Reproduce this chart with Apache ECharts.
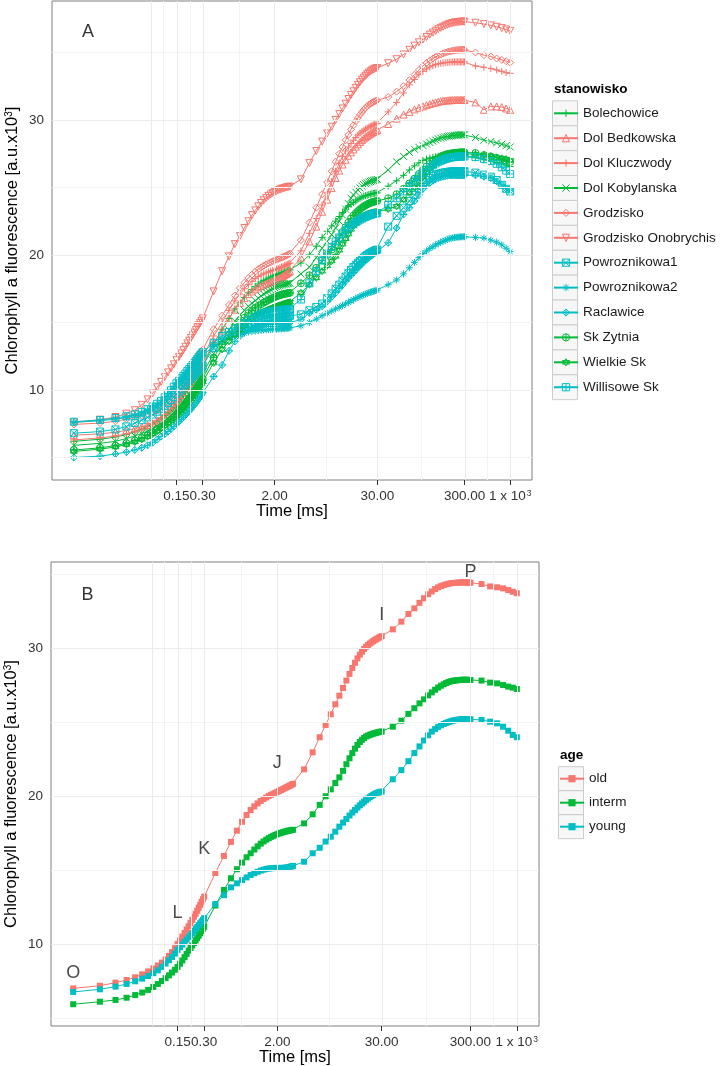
<!DOCTYPE html>
<html><head><meta charset="utf-8">
<script src="https://cdn.jsdelivr.net/npm/echarts@6.0.0/dist/echarts.min.js"></script>
<style>html,body{margin:0;padding:0;background:#fff}#c{width:722px;height:1066px}</style>
</head><body><div id="c"></div>
<script>
// ---------------- DATA ----------------
const times = [0.01,0.02,0.03,0.04,0.05,0.06,0.07,0.08,0.09,0.10,0.11,0.12,0.13,0.14,0.15,0.16,0.17,0.18,0.19,0.20,0.21,0.22,0.23,0.24,0.25,0.26,0.27,0.28,0.29,0.30,
0.4,0.5,0.6,0.7,0.8,0.9,1.0,1.1,1.2,1.3,1.4,1.5,1.6,1.7,1.8,1.9,2.0,2.1,2.2,2.3,2.4,2.5,2.6,2.7,2.8,2.9,3.0,
4,5,6,7,8,9,10,11,12,13,14,15,16,17,18,19,20,21,22,23,24,25,26,27,28,29,30,
40,50,60,70,80,90,100,110,120,130,140,150,160,170,180,190,200,210,220,230,240,250,260,270,280,290,300,
400,500,600,700,800,900,1000];

const tickTimes = [0.15, 0.3, 2, 30, 300, 1000];
const tickLabels = ['0.15', '0.30', '2.00', '30.00', '300.00', '1 x 10{sup|3}'];
const gridBreakTimes = [0.077, 0.15, 0.3, 2, 30, 300, 1000];
const yTicks = [10, 20, 30];
const yMinorLines = [5, 15, 25, 35];

const siteNames = ['Bolechowice','Dol Bedkowska','Dol Kluczwody','Dol Kobylanska','Grodzisko','Grodzisko Onobrychis','Powroznikowa1','Powroznikowa2','Raclawice','Sk Zytnia','Wielkie Sk','Willisowe Sk'];

const bolechowice = [6.2,6.35,6.52,6.7,6.9,7.1,7.3,7.5,7.7,7.9,8.1,8.3,8.5,8.7,8.9,9.12,9.34,9.56,9.78,10.0,10.2,10.4,10.6,10.8,10.98,11.16,11.33,11.5,11.65,11.8,
13.4,14.5,15.3,16.0,16.45,16.85,17.2,17.45,17.67,17.85,18.0,18.1,18.2,18.28,18.36,18.43,18.5,18.55,18.6,18.64,18.68,18.72,18.76,18.8,18.83,18.87,18.9,
19.4,20.0,20.65,21.3,21.75,22.15,22.5,22.85,23.15,23.4,23.6,23.75,23.88,24.0,24.1,24.2,24.28,24.34,24.39,24.43,24.47,24.5,24.53,24.55,24.57,24.59,24.6,
25.1,25.5,25.9,26.3,26.6,26.82,27.0,27.1,27.18,27.24,27.28,27.3,27.33,27.35,27.37,27.38,27.4,27.4,27.4,27.4,27.39,27.38,27.37,27.35,27.33,27.31,27.3,
27.2,27.05,26.95,26.85,26.75,26.65,26.55];
const dolBedkowska = [6.65,6.75,6.87,7.0,7.15,7.28,7.41,7.54,7.67,7.8,7.98,8.18,8.4,8.64,8.9,9.14,9.38,9.62,9.86,10.1,10.3,10.5,10.7,10.9,11.1,11.3,11.5,11.68,11.85,12.0,
13.5,14.4,15.3,15.95,16.45,16.8,17.1,17.3,17.45,17.6,17.7,17.8,17.87,17.94,18.0,18.05,18.1,18.17,18.24,18.31,18.38,18.45,18.52,18.59,18.66,18.73,18.8,
19.8,21.0,22.1,23.2,24.1,24.95,25.7,26.25,26.7,27.05,27.35,27.6,27.82,28.02,28.2,28.36,28.5,28.62,28.73,28.82,28.9,28.98,29.05,29.11,29.16,29.21,29.26,
29.7,30.1,30.4,30.6,30.78,30.9,31.0,31.09,31.17,31.24,31.3,31.35,31.39,31.42,31.44,31.45,31.46,31.47,31.47,31.48,31.48,31.48,31.48,31.48,31.48,31.48,31.48,
31.3,30.75,31.0,31.0,30.95,30.85,30.75];
const dolKluczwody = [6.3,6.45,6.58,6.75,6.95,7.12,7.3,7.5,7.72,7.95,8.18,8.42,8.67,8.93,9.2,9.45,9.7,9.95,10.18,10.4,10.62,10.85,11.08,11.3,11.52,11.74,11.95,12.15,12.33,12.5,
14.0,15.0,15.9,16.6,17.1,17.5,17.8,18.05,18.25,18.4,18.52,18.6,18.67,18.74,18.8,18.85,18.9,18.95,19.0,19.05,19.1,19.15,19.2,19.25,19.3,19.35,19.4,
20.3,21.6,22.7,23.7,24.6,25.45,26.2,26.8,27.3,27.7,28.0,28.25,28.5,28.7,28.88,29.02,29.13,29.23,29.32,29.4,29.47,29.53,29.58,29.63,29.67,29.71,29.75,
30.6,31.3,32.0,32.6,33.0,33.35,33.6,33.78,33.92,34.02,34.1,34.15,34.19,34.22,34.24,34.26,34.27,34.28,34.29,34.3,34.3,34.3,34.3,34.3,34.3,34.3,34.3,
34.0,33.9,33.8,33.7,33.6,33.5,33.45];
const dolKobylanska = [5.9,6.05,6.2,6.4,6.6,6.78,6.96,7.14,7.32,7.5,7.7,7.9,8.1,8.3,8.5,8.7,8.9,9.1,9.3,9.5,9.68,9.86,10.04,10.22,10.4,10.57,10.74,10.9,11.05,11.2,
12.7,13.7,14.45,15.1,15.55,15.9,16.2,16.42,16.62,16.8,16.96,17.1,17.22,17.32,17.41,17.5,17.58,17.64,17.69,17.73,17.77,17.8,17.83,17.85,17.87,17.89,17.9,
18.6,19.1,19.8,20.5,21.0,21.5,22.0,22.5,22.95,23.4,23.8,24.2,24.45,24.65,24.82,24.97,25.1,25.2,25.28,25.34,25.4,25.45,25.49,25.52,25.55,25.58,25.6,
26.3,26.9,27.3,27.6,27.83,27.97,28.1,28.22,28.33,28.43,28.52,28.6,28.66,28.71,28.75,28.78,28.8,28.82,28.84,28.86,28.87,28.88,28.89,28.9,28.9,28.9,28.9,
28.7,28.5,28.4,28.3,28.2,28.1,28.0];
const grodzisko = [7.45,7.55,7.68,7.83,8.0,8.12,8.24,8.36,8.48,8.6,8.8,9.02,9.25,9.48,9.7,9.95,10.2,10.45,10.72,11.0,11.25,11.5,11.75,12.0,12.22,12.42,12.6,12.75,12.88,13.0,
14.5,15.5,16.3,17.0,17.55,17.95,18.3,18.55,18.77,18.95,19.08,19.2,19.3,19.38,19.46,19.53,19.6,19.65,19.7,19.75,19.8,19.85,19.9,19.95,20.0,20.05,20.1,
21.1,22.4,23.5,24.5,25.4,26.2,26.9,27.5,28.0,28.5,28.9,29.3,29.6,29.9,30.15,30.38,30.58,30.75,30.9,31.02,31.12,31.2,31.27,31.33,31.38,31.42,31.45,
31.7,32.1,32.5,32.95,33.35,33.7,34.0,34.22,34.4,34.55,34.67,34.77,34.85,34.92,34.98,35.03,35.07,35.1,35.13,35.15,35.17,35.18,35.19,35.2,35.2,35.2,35.2,
35.0,34.8,34.7,34.55,34.45,34.35,34.25];
const grodziskoOnobrychis = [7.6,7.8,8.0,8.25,8.5,8.9,9.3,9.75,10.2,10.6,10.95,11.3,11.6,11.9,12.2,12.45,12.7,12.95,13.2,13.45,13.65,13.85,14.05,14.25,14.45,14.65,14.8,14.97,15.13,15.3,
17.3,18.8,19.9,20.8,21.4,22.0,22.5,22.95,23.3,23.6,23.85,24.05,24.22,24.36,24.48,24.58,24.66,24.73,24.79,24.84,24.89,24.93,24.96,24.99,25.02,25.04,25.06,
25.6,26.8,27.7,28.4,29.0,29.5,30.0,30.45,30.85,31.2,31.55,31.85,32.12,32.38,32.6,32.8,32.98,33.13,33.27,33.39,33.5,33.59,33.67,33.73,33.78,33.82,33.85,
34.2,34.5,34.85,35.2,35.5,35.75,35.95,36.15,36.32,36.47,36.6,36.72,36.82,36.9,36.98,37.04,37.1,37.14,37.18,37.21,37.23,37.25,37.26,37.27,37.28,37.28,37.28,
37.2,37.1,37.0,36.9,36.8,36.7,36.6];
const powroznikowa1 = [6.8,6.92,7.08,7.3,7.55,7.76,7.97,8.18,8.39,8.6,8.82,9.04,9.26,9.48,9.7,9.88,10.06,10.24,10.42,10.6,10.73,10.86,10.99,11.12,11.25,11.37,11.49,11.6,11.7,11.8,
13.1,13.65,14.0,14.22,14.4,14.54,14.65,14.75,14.84,14.92,14.99,15.05,15.09,15.13,15.17,15.21,15.25,15.28,15.31,15.34,15.37,15.4,15.42,15.44,15.46,15.48,15.5,
15.6,15.9,16.15,16.4,16.8,17.15,17.5,17.8,18.1,18.4,18.65,18.9,19.1,19.27,19.42,19.56,19.7,19.81,19.91,20.0,20.08,20.15,20.21,20.27,20.32,20.36,20.4,
22.1,22.9,23.5,24.0,24.45,24.9,25.3,25.55,25.72,25.85,25.94,26.0,26.05,26.09,26.12,26.15,26.17,26.18,26.19,26.2,26.2,26.2,26.2,26.2,26.2,26.2,26.2,
26.1,25.95,25.8,25.55,25.2,24.9,24.7];
const powroznikowa2 = [7.6,7.72,7.84,7.96,8.1,8.28,8.48,8.68,8.88,9.1,9.36,9.62,9.88,10.14,10.4,10.58,10.76,10.94,11.12,11.3,11.44,11.58,11.72,11.86,12.0,12.13,12.25,12.37,12.49,12.6,
13.2,13.6,13.9,14.0,14.1,14.2,14.3,14.34,14.37,14.4,14.43,14.45,14.46,14.47,14.48,14.49,14.5,14.51,14.52,14.53,14.54,14.55,14.56,14.57,14.58,14.59,14.6,
14.75,15.0,15.25,15.5,15.68,15.85,16.0,16.13,16.25,16.37,16.49,16.6,16.69,16.78,16.86,16.93,17.0,17.05,17.1,17.15,17.2,17.24,17.28,17.31,17.34,17.37,17.4,
17.8,18.15,18.6,19.05,19.45,19.8,20.1,20.3,20.47,20.61,20.74,20.85,20.94,21.02,21.09,21.15,21.2,21.24,21.27,21.29,21.31,21.32,21.33,21.34,21.35,21.35,21.35,
21.3,21.25,21.1,20.95,20.75,20.5,20.25];
const raclawice = [5.0,5.1,5.26,5.4,5.56,5.72,5.9,6.1,6.32,6.55,6.73,6.92,7.11,7.3,7.5,7.66,7.82,7.98,8.14,8.3,8.45,8.6,8.75,8.9,9.05,9.2,9.35,9.5,9.65,9.8,
11.0,11.85,12.9,13.6,14.0,14.3,14.5,14.58,14.65,14.72,14.79,14.85,14.87,14.88,14.89,14.9,14.9,14.91,14.92,14.93,14.94,14.95,14.96,14.97,14.98,14.99,15.0,
15.2,15.7,15.95,16.2,16.55,16.9,17.2,17.5,17.78,18.05,18.3,18.5,18.7,18.88,19.05,19.2,19.35,19.48,19.6,19.7,19.8,19.89,19.97,20.05,20.13,20.21,20.3,
20.9,22.0,23.0,23.5,24.0,24.45,24.9,25.15,25.35,25.5,25.62,25.7,25.76,25.8,25.84,25.87,25.9,25.9,25.9,25.9,25.9,25.9,25.9,25.9,25.9,25.9,25.9,
25.9,25.8,25.7,25.45,25.2,24.9,24.8];
const skZytnia = [5.55,5.72,5.88,6.06,6.25,6.44,6.64,6.84,7.04,7.25,7.44,7.63,7.82,8.01,8.2,8.4,8.6,8.8,9.0,9.2,9.37,9.54,9.71,9.88,10.04,10.2,10.36,10.51,10.66,10.8,
12.4,13.4,14.05,14.6,15.0,15.35,15.7,15.9,16.08,16.22,16.35,16.47,16.57,16.66,16.74,16.81,16.88,16.93,16.98,17.02,17.06,17.09,17.12,17.14,17.16,17.18,17.2,
17.9,18.5,19.05,19.6,20.0,20.4,20.8,21.25,21.7,22.05,22.4,22.7,22.92,23.1,23.25,23.38,23.5,23.6,23.68,23.75,23.81,23.86,23.9,23.93,23.96,23.98,24.0,
24.2,24.5,24.9,25.3,25.65,26.0,26.3,26.55,26.75,26.92,27.06,27.18,27.28,27.36,27.42,27.47,27.5,27.52,27.54,27.56,27.57,27.58,27.59,27.6,27.6,27.6,27.6,
27.55,27.4,27.3,27.2,27.1,27.0,26.9];
const wielkieSk = [5.45,5.62,5.78,5.96,6.15,6.34,6.54,6.74,6.94,7.15,7.34,7.53,7.72,7.91,8.1,8.28,8.46,8.64,8.82,9.0,9.17,9.34,9.51,9.68,9.84,10.0,10.16,10.31,10.46,10.6,
12.0,13.0,13.6,14.1,14.45,14.8,15.1,15.3,15.46,15.6,15.71,15.8,15.88,15.95,16.02,16.08,16.14,16.19,16.24,16.28,16.32,16.36,16.4,16.43,16.46,16.48,16.5,
17.2,17.8,18.3,18.8,19.2,19.55,19.9,20.35,20.8,21.2,21.55,21.9,22.15,22.35,22.52,22.66,22.78,22.88,22.96,23.02,23.07,23.11,23.14,23.16,23.18,23.19,23.2,
23.4,23.6,24.1,24.6,25.0,25.4,25.8,26.12,26.4,26.62,26.82,27.0,27.12,27.22,27.3,27.36,27.4,27.43,27.45,27.47,27.48,27.49,27.5,27.5,27.5,27.5,27.5,
27.45,27.4,27.3,27.2,27.15,27.1,27.0];
const willisoweSk = [7.65,7.78,7.92,8.05,8.2,8.38,8.58,8.78,8.98,9.2,9.46,9.72,9.98,10.24,10.5,10.68,10.86,11.04,11.22,11.4,11.55,11.7,11.85,12.0,12.15,12.3,12.44,12.57,12.69,12.8,
13.5,14.0,14.3,14.5,14.75,14.95,15.15,15.3,15.42,15.52,15.61,15.7,15.74,15.77,15.8,15.83,15.85,15.87,15.89,15.91,15.93,15.94,15.95,15.96,15.97,15.98,16.0,
16.7,17.9,18.8,19.6,20.1,20.6,21.0,21.3,21.58,21.83,22.03,22.2,22.32,22.43,22.53,22.62,22.7,22.77,22.83,22.88,22.93,22.97,23.0,23.03,23.06,23.08,23.1,
23.7,24.2,24.7,25.1,25.5,25.82,26.1,26.32,26.5,26.65,26.78,26.9,26.98,27.05,27.1,27.15,27.2,27.22,27.24,27.26,27.27,27.28,27.29,27.3,27.3,27.3,27.3,
27.25,27.1,26.95,26.75,26.5,26.25,26.0];

const ageNames = ['old', 'interm', 'young'];
const ageOld = [7.00,7.18,7.39,7.57,7.75,7.95,8.15,8.35,8.55,8.74,8.95,9.20,9.45,9.72,10.00,10.25,10.50,10.75,10.98,11.20,11.42,11.63,11.84,12.04,12.25,12.45,12.65,12.85,13.03,13.20,
14.80,15.95,16.90,17.66,18.26,18.72,19.05,19.30,19.50,19.66,19.80,19.90,20.00,20.08,20.15,20.22,20.28,20.34,20.40,20.46,20.52,20.57,20.62,20.67,20.72,20.77,20.82,
21.80,22.95,23.97,24.80,25.52,26.20,26.78,27.30,27.80,28.25,28.65,29.00,29.30,29.55,29.75,29.93,30.08,30.20,30.30,30.38,30.46,30.53,30.59,30.65,30.70,30.75,30.80,
31.26,31.78,32.30,32.68,33.05,33.36,33.63,33.82,33.98,34.10,34.18,34.25,34.30,34.34,34.37,34.39,34.40,34.41,34.42,34.42,34.43,34.43,34.43,34.43,34.42,34.42,34.41,
34.32,34.16,34.10,34.03,33.92,33.80,33.70];
const ageInterm = [5.93,6.10,6.22,6.37,6.55,6.72,6.90,7.10,7.30,7.50,7.69,7.88,8.07,8.26,8.45,8.67,8.89,9.11,9.33,9.55,9.73,9.90,10.07,10.24,10.40,10.56,10.72,10.88,11.03,11.17,
12.60,13.65,14.44,15.05,15.50,15.86,16.13,16.38,16.60,16.78,16.93,17.05,17.15,17.24,17.31,17.37,17.42,17.47,17.51,17.55,17.58,17.61,17.64,17.66,17.68,17.70,17.72,
18.15,18.76,19.40,19.98,20.45,20.88,21.26,21.70,22.15,22.55,22.90,23.20,23.45,23.65,23.80,23.92,24.02,24.08,24.13,24.17,24.21,24.24,24.27,24.30,24.32,24.34,24.36,
24.68,25.09,25.55,25.93,26.26,26.53,26.80,27.00,27.18,27.33,27.45,27.55,27.63,27.70,27.75,27.78,27.80,27.82,27.83,27.84,27.85,27.85,27.85,27.85,27.85,27.84,27.84,
27.80,27.66,27.61,27.50,27.39,27.32,27.23];
const ageYoung = [6.76,6.94,7.12,7.30,7.48,7.66,7.84,8.03,8.22,8.45,8.68,8.90,9.12,9.35,9.60,9.78,9.96,10.14,10.30,10.46,10.60,10.74,10.88,11.02,11.15,11.28,11.40,11.52,11.63,11.75,
12.70,13.30,13.83,14.10,14.32,14.50,14.66,14.78,14.88,14.96,15.02,15.07,15.10,15.12,15.13,15.14,15.14,15.14,15.14,15.14,15.15,15.16,15.18,15.20,15.22,15.25,15.28,
15.56,16.13,16.50,16.92,17.25,17.59,17.93,18.20,18.45,18.68,18.88,19.05,19.22,19.37,19.50,19.62,19.73,19.83,19.92,20.00,20.07,20.13,20.18,20.22,20.25,20.28,20.30,
21.13,21.75,22.35,22.90,23.35,23.75,24.10,24.35,24.53,24.67,24.78,24.87,24.94,25.00,25.05,25.09,25.12,25.14,25.16,25.17,25.18,25.18,25.18,25.18,25.18,25.18,25.18,
25.14,25.02,24.91,24.68,24.41,24.12,23.97];

const stepLetters = ['O', 'L', 'K', 'J', 'I', 'P'];
const stepTimes = [0.01, 0.15, 0.3, 2, 30, 300];
const stepValues = [8.06, 12.07, 16.4, 22.25, 32.23, 35.11];
const panelLetters = ['A', 'B'];
const panelLetterTime = 0.0145;
const panelLetterValues = [36.54, 33.58];

// ---------------- STYLE ----------------
const FONT = "'Liberation Sans', Arial, Helvetica, sans-serif";
const RED = '#F8766D', GREEN = '#00BA38', CYAN = '#00BFC4';
const SYM = {
  plus: 'path://M5,0V10M0,5H10',
  cross: 'path://M0,0L10,10M10,0L0,10',
  triUp: 'path://M5,0L10,9L0,9Z',
  triDown: 'path://M0,1L10,1L5,10Z',
  diamond: 'path://M5,0L10,5L5,10L0,5Z',
  squareCross: 'path://M0,0H10V10H0ZM0,0L10,10M10,0L0,10',
  asterisk: 'path://M5,0V10M0,5H10M1.5,1.5L8.5,8.5M8.5,1.5L1.5,8.5',
  diamondPlus: 'path://M5,0L10,5L5,10L0,5ZM5,0V10M0,5H10',
  circlePlus: 'path://M0,5A5,5,0,1,0,10,5A5,5,0,1,0,0,5ZM5,0V10M0,5H10',
  starDavid: 'path://M5,0L10,7.5L0,7.5ZM0,2.5L10,2.5L5,10Z',
  squarePlus: 'path://M0,0H10V10H0ZM5,0V10M0,5H10'
};
const siteStyle = {
  'Bolechowice': [GREEN, 'plus'], 'Dol Bedkowska': [RED, 'triUp'], 'Dol Kluczwody': [RED, 'plus'],
  'Dol Kobylanska': [GREEN, 'cross'], 'Grodzisko': [RED, 'diamond'], 'Grodzisko Onobrychis': [RED, 'triDown'],
  'Powroznikowa1': [CYAN, 'squareCross'], 'Powroznikowa2': [CYAN, 'asterisk'], 'Raclawice': [CYAN, 'diamondPlus'],
  'Sk Zytnia': [GREEN, 'circlePlus'], 'Wielkie Sk': [GREEN, 'starDavid'], 'Willisowe Sk': [CYAN, 'squarePlus']
};
const siteValues = [bolechowice, dolBedkowska, dolKluczwody, dolKobylanska, grodzisko, grodziskoOnobrychis,
  powroznikowa1, powroznikowa2, raclawice, skZytnia, wielkieSk, willisoweSk];
const ageValues = [ageOld, ageInterm, ageYoung];
const ageColors = [RED, GREEN, CYAN];

const lg = Math.log10;
const X_MIN = -2.25, X_MAX = 3.25;
const tickPos = tickTimes.map(lg);
const gridMajorPos = gridBreakTimes.map(lg);
const gridMinorPos = gridMajorPos.slice(1).map((p, i) => (p + gridMajorPos[i]) / 2);

const GRIDS = [
  {left: 52, top: 1, width: 480, height: 479, yMin: 3.333, yMax: 38.81},
  {left: 51, top: 562, width: 488, height: 464, yMin: 4.46, yMax: 35.81}
];

function xAxisCfg(gi) {
  return {
    type: 'value', gridIndex: gi, min: X_MIN, max: X_MAX,
    name: 'Time [ms]', nameLocation: 'middle', nameGap: 23, nameMoveOverlap: false,
    nameTextStyle: {fontSize: 16.5, color: '#000', fontFamily: FONT},
    axisLine: {show: false}, splitLine: {show: false},
    axisTick: {show: true, length: 5, customValues: tickPos, lineStyle: {color: '#333', width: 1}},
    axisLabel: {
      show: true, customValues: tickPos, margin: 9, fontSize: 13.5, color: '#333', fontFamily: FONT,
      hideOverlap: false, showMinLabel: true, showMaxLabel: true,
      formatter: v => { const i = tickPos.findIndex(p => Math.abs(p - v) < 1e-6); return i >= 0 ? tickLabels[i] : ''; },
      rich: {sup: {fontSize: 8.5, verticalAlign: 'top', color: '#333', fontFamily: FONT, padding: [0, 0, 5, 1]}}
    }
  };
}
function yAxisCfg(gi) {
  const g = GRIDS[gi];
  return {
    type: 'value', gridIndex: gi, min: g.yMin, max: g.yMax,
    name: 'Chlorophyll a fluorescence [a.u.x10{sup|3}]', nameLocation: 'middle', nameRotate: 90, nameGap: 31,
    nameMoveOverlap: false,
    nameTextStyle: {fontSize: 16.5, color: '#000', fontFamily: FONT,
      rich: {sup: {fontSize: 10, verticalAlign: 'top', color: '#000', fontFamily: FONT, padding: [0, 0, 6, 0]}}},
    axisLine: {show: false}, splitLine: {show: false},
    axisTick: {show: true, length: 5, customValues: yTicks, lineStyle: {color: '#333', width: 1}},
    axisLabel: {show: true, customValues: yTicks, margin: 8, fontSize: 13.5, color: '#333', fontFamily: FONT, hideOverlap: false}
  };
}
function gridLineSeries(gi) {
  const lines = [];
  gridMinorPos.forEach(p => lines.push({xAxis: p, lineStyle: {color: '#F3F3F3', width: 1, type: 'solid'}}));
  yMinorLines.forEach(v => lines.push({yAxis: v, lineStyle: {color: '#F3F3F3', width: 1, type: 'solid'}}));
  gridMajorPos.forEach(p => lines.push({xAxis: p, lineStyle: {color: '#EBEBEB', width: 1, type: 'solid'}}));
  yTicks.forEach(v => lines.push({yAxis: v, lineStyle: {color: '#EBEBEB', width: 1, type: 'solid'}}));
  return {
    type: 'line', name: '_grid' + gi, xAxisIndex: gi, yAxisIndex: gi, data: [], z: 1, silent: true,
    markLine: {silent: true, symbol: ['none', 'none'], label: {show: false}, animation: false,
      emphasis: {disabled: true}, data: lines}
  };
}
function pairs(vals) { return times.map((t, i) => [lg(t), vals[i]]); }

const series = [gridLineSeries(0), gridLineSeries(1)];
siteNames.forEach((name, k) => {
  const [c, s] = siteStyle[name];
  series.push({
    type: 'line', name, xAxisIndex: 0, yAxisIndex: 0, data: pairs(siteValues[k]),
    symbol: SYM[s], symbolSize: 7, showSymbol: true, showAllSymbol: true,
    itemStyle: {color: 'none', borderColor: c, borderWidth: 1},
    lineStyle: {color: c, width: 1}, emphasis: {disabled: true}, z: 2
  });
});
ageNames.forEach((name, k) => {
  series.push({
    type: 'line', name, xAxisIndex: 1, yAxisIndex: 1, data: pairs(ageValues[k]),
    symbol: 'rect', symbolSize: 6, showSymbol: true, showAllSymbol: true,
    itemStyle: {color: ageColors[k], borderWidth: 0},
    lineStyle: {color: ageColors[k], width: 1}, emphasis: {disabled: true}, z: 2
  });
});
series.push({
  type: 'scatter', xAxisIndex: 1, yAxisIndex: 1, symbolSize: 0, silent: true, z: 5,
  data: stepLetters.map((l, i) => ({name: l, value: [lg(stepTimes[i]), stepValues[i]]})),
  label: {show: true, position: 'inside', formatter: '{b}', fontSize: 18, color: '#1a1a1a', fontFamily: FONT}
});
panelLetters.forEach((l, gi) => {
  series.push({
    type: 'scatter', xAxisIndex: gi, yAxisIndex: gi, symbolSize: 0, silent: true, z: 5,
    data: [{name: l, value: [lg(panelLetterTime), panelLetterValues[gi]]}],
    label: {show: true, position: 'inside', formatter: '{b}', fontSize: 18, color: '#000', fontFamily: FONT}
  });
});

const LEG = [
  {names: siteNames, left: 553, firstCenter: 113.3, step: 24.9, boxX: 552.5, boxW: 25, title: 'stanowisko', titleY: 89},
  {names: ageNames, left: 559, firstCenter: 778.7, step: 24, boxX: 558.5, boxW: 25, title: 'age', titleY: 755}
];
const ROW_H = 15;
const legendItemsA = siteNames.map(n => ({name: n, itemStyle: {color: 'none', borderColor: siteStyle[n][0], borderWidth: 1}}));
const legendItemsB = ageNames.map((n, k) => ({name: n, itemStyle: {color: ageColors[k], borderWidth: 0}}));
const legends = LEG.map((L, li) => ({
  data: li === 0 ? legendItemsA : legendItemsB, orient: 'vertical', left: L.left, top: L.firstCenter - ROW_H / 2, padding: 0,
  itemWidth: 24, itemHeight: 9, itemGap: L.step - ROW_H, selectedMode: false,
  textStyle: {fontSize: 13.5, lineHeight: ROW_H, color: '#1a1a1a', fontFamily: FONT}
}));
const graphics = [];
LEG.forEach(L => {
  L.names.forEach((n, i) => {
    graphics.push({type: 'rect', silent: true, z: -1,
      shape: {x: L.boxX, y: L.firstCenter - L.step / 2 + i * L.step, width: L.boxW, height: L.step},
      style: {fill: '#F7F7F7', stroke: '#CCCCCC', lineWidth: 1}});
  });
  graphics.push({type: 'text', silent: true, x: L.left + 1, y: L.titleY,
    style: {text: L.title, fontSize: 13.5, fontWeight: 'bold', fontFamily: FONT, fill: '#000', verticalAlign: 'middle'}});
});

const chart = echarts.init(document.getElementById('c'), null, {renderer: 'canvas'});
chart.setOption({
  animation: false,
  backgroundColor: '#fff',
  grid: GRIDS.map(g => ({left: g.left, top: g.top, width: g.width, height: g.height, show: true,
    borderColor: '#7F7F7F', borderWidth: 1, backgroundColor: '#fff', containLabel: false, outerBoundsMode: 'none'})),
  xAxis: [xAxisCfg(0), xAxisCfg(1)],
  yAxis: [yAxisCfg(0), yAxisCfg(1)],
  legend: legends,
  graphic: graphics,
  series
});
</script></body></html>
